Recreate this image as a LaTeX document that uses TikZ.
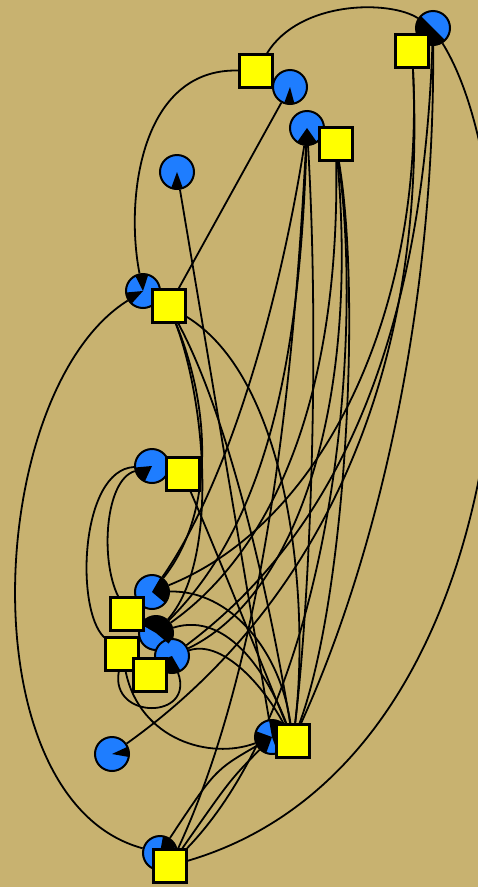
\documentclass[tikz,border=0pt]{standalone}
\pgfdeclarelayer{bglayer}
\pgfdeclarelayer{edgelayer}
\pgfsetlayers{bglayer,edgelayer,main}
\definecolor{bgtan}{RGB}{200,178,112}
\definecolor{pieblue}{RGB}{30,125,255}
\definecolor{sqyellow}{RGB}{255,255,0}
\newcommand\pieW[3]{\fill[black] (#1.center) -- ++(#2:16.5) arc[start angle=#2,end angle=#3,radius=16.5] -- cycle;}
\begin{document}
\begin{tikzpicture}[x=1pt,y=1pt,
  circ/.style={circle,draw=black,line width=2pt,fill=pieblue,minimum size=34pt,inner sep=0pt},
  sq/.style={rectangle,draw=black,line width=2.6pt,fill=sqyellow,minimum size=33pt,inner sep=0pt},
  link/.style={draw=black,line width=1.8pt}]
\begin{pgfonlayer}{bglayer}
\fill[bgtan] (0,0) rectangle (478,-887);
\end{pgfonlayer}
\useasboundingbox (0,0) rectangle (478,-887);
% circles
\node[circ] (c1) at (433,-28) {};
\node[circ] (c2) at (290,-87) {};
\node[circ] (c3) at (307,-128) {};
\node[circ] (c4) at (177,-172) {};
\node[circ] (c5) at (143,-291) {};
\node[circ] (c6) at (152,-466) {};
\node[circ] (c7) at (152,-592) {};
\node[circ] (c8) at (156,-633) {};
\node[circ] (c9) at (172,-656) {};
\node[circ] (c10) at (272,-737) {};
\node[circ] (c11) at (112,-754) {};
\node[circ] (c12) at (160,-853) {};
% wedges
\pieW{c1}{135}{315}
\pieW{c2}{-110}{-75}
\pieW{c3}{-125}{-55}
\pieW{c4}{-110}{-70}
\pieW{c5}{72}{117}
\pieW{c5}{185}{228}
\pieW{c6}{185}{245}
\pieW{c7}{-40}{60}
\pieW{c8}{-40}{150}
\pieW{c9}{200}{300}
\pieW{c10}{160}{250}
\pieW{c10}{-70}{100}
\pieW{c11}{-10}{25}
\pieW{c12}{20}{80}
% squares
\node[sq] (s1) at (412,-51) {};
\node[sq] (s2) at (256,-71) {};
\node[sq] (s3) at (336,-144) {};
\node[sq] (s5) at (169,-306) {};
\node[sq] (s6) at (183,-474) {};
\node[sq] (s7) at (127,-614) {};
\node[sq] (s8) at (122,-654) {};
\node[sq] (s9) at (150,-675) {};
\node[sq] (s10) at (293,-741) {};
\node[sq] (s12) at (170,-866) {};
% connectors
\begin{pgfonlayer}{edgelayer}
\path[link] (s2) .. controls (140,-68) and (125,-200) .. (c5);
\path[link] (s2) .. controls (300,0) and (390,0) .. (c1);
\path[link] (c2) -- (s5);
\path[link] (c4) -- (c10);
\path[link] (c5) .. controls (-15,-390) and (-35,-800) .. (c12);
\path[link] (c1) .. controls (540,-200) and (530,-760) .. (s12);
\path[link] (c6) .. controls (105,-480) and (100,-560) .. (s7);
\path[link] (c6) .. controls (80,-470) and (75,-610) .. (s8);
\path[link] (s5) .. controls (290,-380) and (310,-600) .. (s10);
\path[link] (s5) .. controls (230,-420) and (270,-600) .. (s10);
\path[link] (s5) .. controls (215,-420) and (210,-520) .. (c7);
\path[link] (s5) .. controls (205,-400) and (220,-560) .. (c8);
\path[link] (s6) .. controls (220,-560) and (260,-660) .. (s10);
\path[link] (c3) .. controls (280,-300) and (230,-480) .. (c7);
\path[link] (c3) .. controls (300,-350) and (270,-520) .. (c8);
\path[link] (c3) .. controls (295,-350) and (270,-650) .. (s12);
\path[link] (c3) .. controls (320,-350) and (310,-600) .. (s10);
\path[link] (s3) .. controls (362,-300) and (345,-600) .. (s10);
\path[link] (s3) .. controls (365,-350) and (330,-700) .. (s12);
\path[link] (s3) .. controls (360,-420) and (290,-600) .. (c9);
\path[link] (c1) .. controls (435,-300) and (380,-550) .. (s10);
\path[link] (c11) .. controls (300,-620) and (430,-400) .. (s1);
\path[link] (s1) .. controls (425,-300) and (330,-520) .. (c7);
\path[link] (c10) .. controls (230,-780) .. (s12);
\path[link] (c10) .. controls (215,-770) .. (c12);
\path[link] (c7) .. controls (230,-590) and (280,-650) .. (s10);
\path[link] (c8) .. controls (230,-610) and (270,-680) .. (s10);
\path[link] (c9) .. controls (220,-640) and (260,-680) .. (s10);
\path[link] (s8) .. controls (140,-740) and (210,-760) .. (c10);
\path[link] (s8) .. controls (110,-720) and (195,-720) .. (c9);
\path[link] (c8) .. controls (260,-560) and (340,-420) .. (s3);
\path[link] (c9) .. controls (300,-560) and (420,-400) .. (c1);
\end{pgfonlayer}
\end{tikzpicture}
\end{document}
